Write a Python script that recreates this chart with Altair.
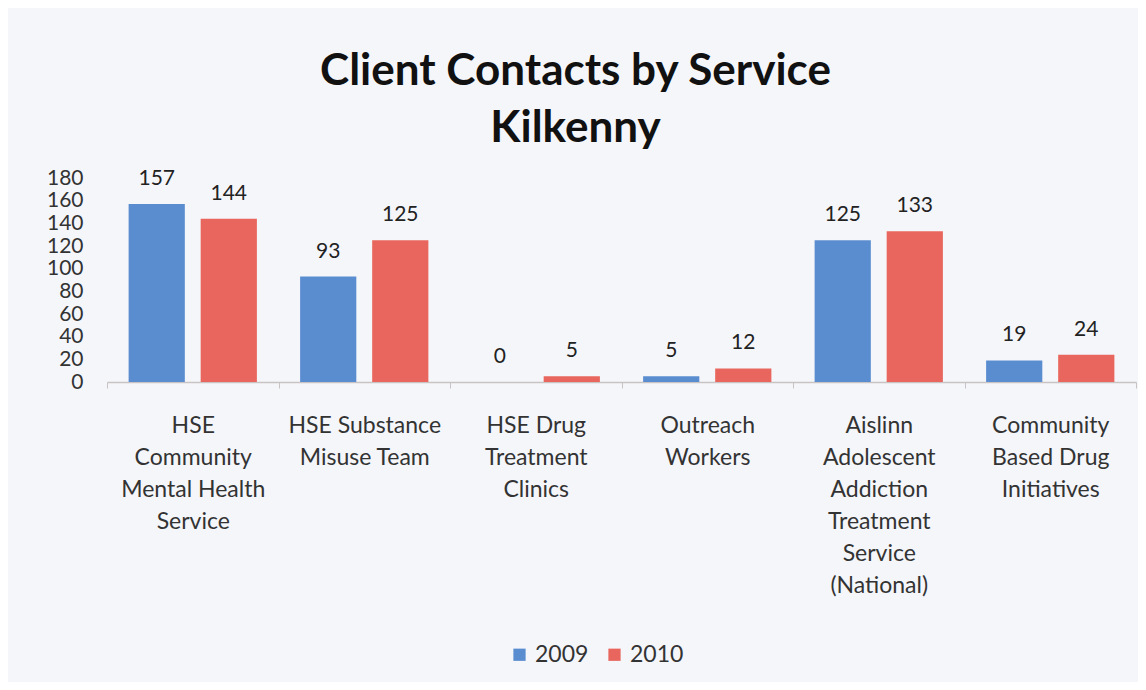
import altair as alt
import pandas as pd

services = [
    "HSE|Community|Mental Health|Service",
    "HSE Substance|Misuse Team",
    "HSE Drug|Treatment|Clinics",
    "Outreach|Workers",
    "Aislinn|Adolescent|Addiction|Treatment|Service|(National)",
    "Community|Based Drug|Initiatives",
]
years = ["2009", "2010"]
values_2009 = [157, 93, 0, 5, 125, 19]
values_2010 = [144, 125, 5, 12, 133, 24]
y_ticks = [0, 20, 40, 60, 80, 100, 120, 140, 160, 180]
colors = ["#5a8dd0", "#e8665d"]

rows = []
for s, a, b in zip(services, values_2009, values_2010):
    rows.append({"service": s, "year": "2009", "value": a})
    rows.append({"service": s, "year": "2010", "value": b})
df = pd.DataFrame(rows)

FONT = "Lato"

x = alt.X(
    "service:N",
    sort=services,
    scale=alt.Scale(paddingInner=0, paddingOuter=0),
    axis=alt.Axis(
        title=None,
        labelAngle=0,
        labelExpr="split(datum.label, '|')",
        labelFont=FONT,
        labelFontSize=23,
        labelColor="#333333",
        labelLineHeight=32,
        labelPadding=26,
        labelLimit=300,
        domainColor="#c9c3c3",
        domainWidth=1.5,
        tickColor="#c9c3c3",
        tickBand="extent",
        tickSize=6,
    ),
)
xoff = alt.XOffset(
    "year:N",
    sort=years,
    scale=alt.Scale(paddingInner=0.22, paddingOuter=0.3),
)
y = alt.Y(
    "value:Q",
    scale=alt.Scale(domain=[0, 180], nice=False),
    axis=alt.Axis(
        title=None,
        values=y_ticks,
        labelFont=FONT,
        labelFontSize=21,
        labelColor="#333333",
        labelPadding=24,
        domain=False,
        ticks=False,
        grid=False,
    ),
)
color = alt.Color(
    "year:N",
    sort=years,
    scale=alt.Scale(domain=years, range=colors),
    legend=alt.Legend(
        title=None,
        orient="none",
        legendX=401,
        legendY=465,
        direction="horizontal",
        symbolType="square",
        symbolSize=150,
        symbolStrokeWidth=0,
        labelFont=FONT,
        labelFontSize=23,
        labelColor="#333333",
        columnPadding=14,
        labelOffset=4,
    ),
)

bars = alt.Chart(df).mark_bar().encode(x=x, xOffset=xoff, y=y, color=color)
labels = alt.Chart(df).mark_text(
    baseline="bottom", dy=-15, font=FONT, fontSize=21, color="#222222"
).encode(x=x, xOffset=xoff, y=y, text="value:Q")

chart = (
    alt.layer(bars, labels)
    .properties(
        width=1029,
        height=204,
        autosize=alt.AutoSizeParams(type="none"),
        padding={"left": 99, "top": 170, "right": 2, "bottom": 300},
        background="#f5f6fa",
        title=alt.TitleParams(
            text=["Client Contacts by Service", "Kilkenny"],
            font=FONT,
            fontSize=44,
            fontWeight="bold",
            color="#111111",
            lineHeight=57,
            anchor="middle",
            dx=-46,
            offset=16,
        ),
    )
    .configure_view(stroke=None)
)

chart.save("out.html", embed_options={"renderer": "svg", "actions": False})
